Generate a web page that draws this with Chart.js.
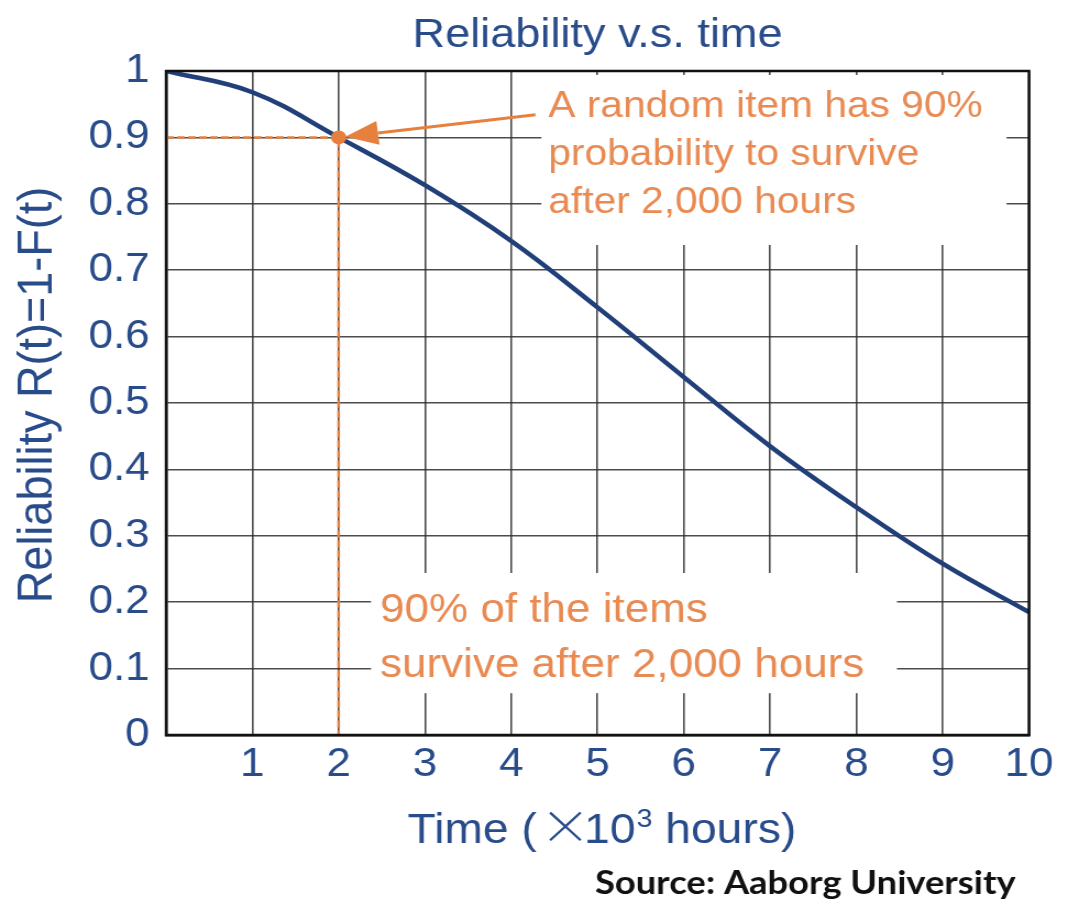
<!DOCTYPE html>
<html>
<head>
<meta charset="utf-8">
<title>Reliability v.s. time</title>
<script src="https://cdn.jsdelivr.net/npm/chart.js@4.4.1/dist/chart.umd.min.js"></script>
<style>
  html, body { margin: 0; padding: 0; background: #fff; }
</style>
</head>
<body>
<!-- bitmap is drawn narrower and widened by the inline size, so the text comes out broad -->
<canvas id="reliabilityChart" width="971" height="899" style="display:block;width:1068px;height:899px"></canvas>
<script>
// time in thousands of hours, R(t) = 1 - F(t)
const hours = [0, 1, 2, 3, 4, 5, 6, 7, 8, 9, 10];
const reliability = [1.0, 0.968, 0.9, 0.828, 0.744, 0.644, 0.539, 0.435, 0.343, 0.258, 0.185];

// the marked point: 90% at 2,000 hours
const markHours = 2;
const markReliability = 0.9;

const topNote = ['A random item has 90%', 'probability to survive', 'after 2,000 hours'];
const bottomNote = ['90% of the items', 'survive after 2,000 hours'];

const blue = '#284B8A';
const navy = '#213F78';
const orange = '#E5803F';
const orangeText = '#E88A52';
const gridColor = 'rgba(45,45,45,0.85)';
const face = '"Liberation Sans", Arial, sans-serif';

const curve = hours.map((t, i) => ({ x: t, y: reliability[i] }));
const guide = [
    { x: 0, y: markReliability },
    { x: markHours, y: markReliability },
    { x: markHours, y: 0 }
];

// white panels behind the two notes, in data units
const panels = [
    [4.35, 9.74, 0.994, 0.738],
    [2.375, 8.47, 0.244, 0.063]
];

const decor = {
    id: 'decor',
    beforeDatasetsDraw(chart) {
        const { ctx, scales: { x, y } } = chart;
        ctx.save();
        ctx.fillStyle = '#fff';
        panels.forEach(([x0, x1, y0, y1]) => {
            const l = x.getPixelForValue(x0), r = x.getPixelForValue(x1);
            const t = y.getPixelForValue(y0), b = y.getPixelForValue(y1);
            ctx.fillRect(l, t, r - l, b - t);
        });
        ctx.restore();
    },
    afterDatasetsDraw(chart) {
        const { ctx, chartArea: a, scales: { x, y } } = chart;
        ctx.save();

        // frame round the plot
        ctx.strokeStyle = '#111';
        ctx.lineWidth = 2.5;
        ctx.strokeRect(a.left, a.top, a.right - a.left, a.bottom - a.top);

        // arrow from the top note to the marked point
        const px = x.getPixelForValue(markHours), py = y.getPixelForValue(markReliability);
        const sx = x.getPixelForValue(4.28), sy = y.getPixelForValue(0.934);
        const ang = Math.atan2(py - sy, px - sx);
        const tipX = px - Math.cos(ang) * 6, tipY = py - Math.sin(ang) * 6;
        const headLen = 30, headW = 12;
        const bx = tipX - Math.cos(ang) * headLen, by = tipY - Math.sin(ang) * headLen;
        ctx.strokeStyle = orange;
        ctx.lineWidth = 3;
        ctx.beginPath();
        ctx.moveTo(sx, sy);
        ctx.lineTo(bx, by);
        ctx.stroke();
        ctx.fillStyle = orange;
        ctx.beginPath();
        ctx.moveTo(tipX, tipY);
        ctx.lineTo(bx + Math.sin(ang) * headW, by - Math.cos(ang) * headW);
        ctx.lineTo(bx - Math.sin(ang) * headW, by + Math.cos(ang) * headW);
        ctx.closePath();
        ctx.fill();

        // notes
        ctx.fillStyle = orangeText;
        ctx.textAlign = 'left';
        ctx.textBaseline = 'alphabetic';
        ctx.font = '37px ' + face;
        let nx = x.getPixelForValue(4.43), ny = y.getPixelForValue(0.931);
        topNote.forEach((line, i) => ctx.fillText(line, nx, ny + i * 48));
        ctx.font = '40px ' + face;
        nx = x.getPixelForValue(2.48);
        ny = y.getPixelForValue(0.17);
        bottomNote.forEach((line, i) => ctx.fillText(line, nx, ny + i * 55));

        ctx.restore();
    },
    afterDraw(chart) {
        const { ctx, chartArea: a } = chart;
        const cx = (a.left + a.right) / 2;
        ctx.save();
        ctx.fillStyle = blue;
        ctx.textBaseline = 'alphabetic';

        // title
        ctx.textAlign = 'center';
        ctx.font = '41px ' + face;
        ctx.fillText('Reliability v.s. time', cx, 47);

        // y axis title
        ctx.save();
        ctx.translate(47, 395);
        ctx.rotate(-Math.PI / 2);
        ctx.font = '45px ' + face;
        ctx.fillText('Reliability R(t)=1-F(t)', 0, 0);
        ctx.restore();

        // x axis title with a large thin times sign and a raised exponent
        const parts = [
            ['Time (', '42px ' + face, 0, 3],
            ['\u00D7', '300 46px "Noto Sans CJK SC", ' + face, 0, -6],
            ['10', '42px ' + face, 0, 1],
            ['3', '26px ' + face, -16, 0],
            [' hours)', '42px ' + face, 0, 0]
        ];
        ctx.textAlign = 'left';
        let total = 0;
        parts.forEach(([s, f, rise, gap]) => {
            ctx.font = f;
            total += ctx.measureText(s).width + gap;
        });
        let tx = cx + 4 - total / 2;
        parts.forEach(([s, f, rise, gap]) => {
            ctx.font = f;
            ctx.fillText(s, tx, 843 + rise);
            tx += ctx.measureText(s).width + gap;
        });

        // source line
        ctx.fillStyle = '#111';
        ctx.font = 'bold 33px Lato, "Open Sans", sans-serif';
        ctx.fillText('Source: Aaborg University', 541, 894, 384);
        ctx.restore();
    }
};

const ctx = document.getElementById('reliabilityChart').getContext('2d');
const reliabilityChart = new Chart(ctx, {
    type: 'line',
    data: {
        datasets: [
            {
                data: [{ x: markHours, y: markReliability }],
                showLine: false,
                pointRadius: 7,
                pointBackgroundColor: orange,
                pointBorderColor: orange,
                pointBorderWidth: 0
            },
            {
                data: curve,
                borderColor: navy,
                borderWidth: 4.5,
                tension: 0.4,
                pointRadius: 0,
                fill: false
            },
            {
                data: guide,
                borderColor: orange,
                borderWidth: 2.5,
                borderDash: [7, 3],
                tension: 0,
                pointRadius: 0,
                fill: false
            }
        ]
    },
    options: {
        responsive: false,
        animation: false,
        devicePixelRatio: 1,
        layout: {
            padding: { left: 0, right: 35.5, top: 71, bottom: 0 }
        },
        plugins: {
            legend: { display: false },
            tooltip: { enabled: false },
            title: { display: false }
        },
        scales: {
            x: {
                type: 'linear',
                min: 0,
                max: 10,
                ticks: {
                    stepSize: 1,
                    color: blue,
                    padding: 6,
                    font: { family: face, size: 40 },
                    callback: (v) => (v === 0 ? '' : v)
                },
                grid: { color: gridColor, lineWidth: 1.6, drawTicks: false },
                border: { color: '#111', width: 2.5 },
                afterFit: (scale) => { scale.height = 164; }
            },
            y: {
                min: 0,
                max: 1,
                ticks: {
                    stepSize: 0.1,
                    color: blue,
                    padding: 15,
                    font: { family: face, size: 40 },
                    callback: (v) => String(Number(v.toFixed(1)))
                },
                grid: { color: gridColor, lineWidth: 1.6, drawTicks: false },
                border: { color: '#111', width: 2.5 },
                afterFit: (scale) => { scale.width = 151; }
            }
        }
    },
    plugins: [decor]
});
</script>
</body>
</html>
